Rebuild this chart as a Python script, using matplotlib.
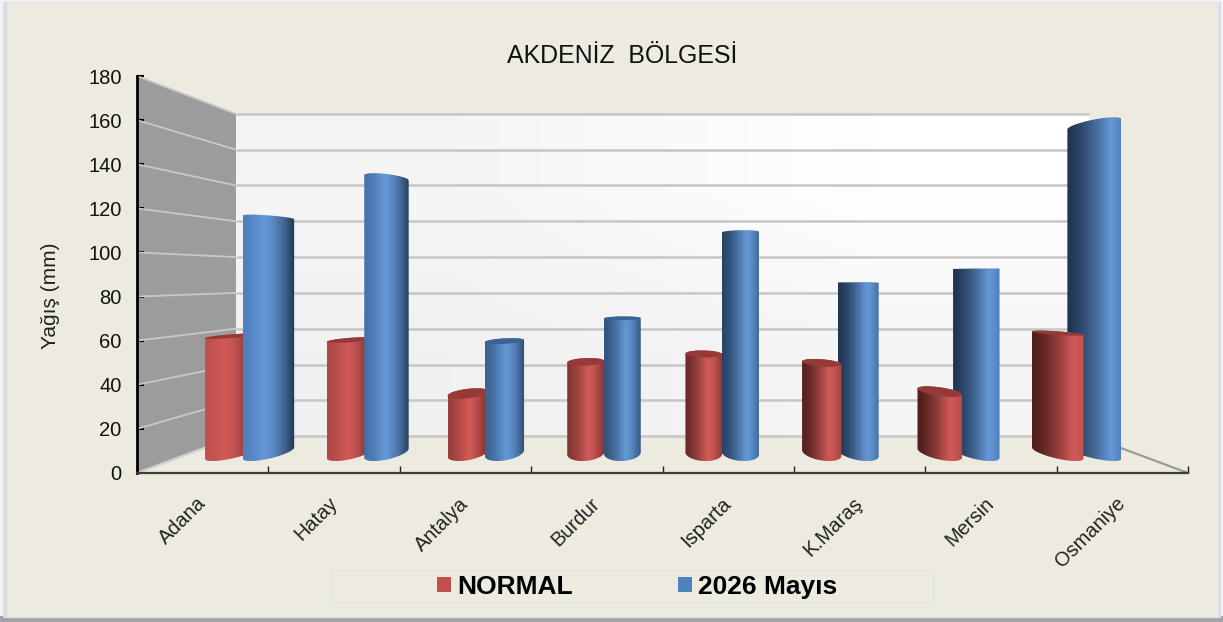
import numpy as np
import matplotlib
matplotlib.use("Agg")
import matplotlib.pyplot as plt
from matplotlib.colors import to_rgb
from matplotlib.patches import Patch, Polygon, Rectangle

plt.rcParams["font.family"] = ["Liberation Sans", "DejaVu Sans"]

# data
cities = ["Adana", "Hatay", "Antalya", "Burdur", "Isparta", "K.Maraş", "Mersin", "Osmaniye"]
normal = [59, 57, 30, 46, 50, 45.5, 31, 60.5]
may_2026 = [119, 139, 56.5, 68, 111.5, 86, 93, 166]
y_ticks = list(range(0, 181, 20))

W, H = 1223, 622
BG = "#EDEBE0"

# perspective of the 3d box, in data units
VP_X, VP_Y = 4.0, 88.8
DEPTH = 0.232
BAR_DEPTH, BAR_DR = 0.5, 0.22
BAR_R = 0.155
RED_POS, BLUE_POS = 0.35, 0.66

RED = {"base": "#C0504D", "hi": "#D05A57", "dark": "#4E1E1C", "top": "#963A38"}
BLUE = {"base": "#4F81BD", "hi": "#6497D6", "dark": "#1F3550", "top": "#3A6493"}


def project(x, y, d):
    f = 1 / (1 + DEPTH * np.asarray(d, dtype=float))
    return VP_X + (np.asarray(x, dtype=float) - VP_X) * f, VP_Y + (np.asarray(y, dtype=float) - VP_Y) * f


def hull(points):
    pts = sorted(set(map(tuple, points)))

    def half(seq):
        out = []
        for p in seq:
            while len(out) > 1 and (out[-1][0] - out[-2][0]) * (p[1] - out[-2][1]) - (out[-1][1] - out[-2][1]) * (p[0] - out[-2][0]) <= 0:
                out.pop()
            out.append(p)
        return out[:-1]

    return np.array(half(pts) + half(pts[::-1]))


def circle(cx, value):
    t = np.linspace(0, 2 * np.pi, 90)
    px, py = project(cx + BAR_R * np.cos(t), np.full_like(t, value), BAR_DEPTH + BAR_DR * np.sin(t))
    return np.column_stack([px, py])


def shade(cols, cx):
    u = np.linspace(0, 1, 160)
    peak = 0.35 + 0.06 * cx
    left_dark = np.clip((cx - 0.6) / 5.0, 0, 1)
    right_dark = np.clip((7.0 - cx) / 6.0, 0, 1)
    base, hi, dark = [np.array(to_rgb(cols[k])) for k in ("base", "hi", "dark")]
    left = base + (dark - base) * left_dark
    right = base + (dark - base) * right_dark
    out = np.zeros((u.size, 3))
    for i, v in enumerate(u):
        if v < peak:
            k = (v / peak) ** 1.4
            out[i] = left + (hi - left) * k
        else:
            k = ((v - peak) / (1 - peak)) ** 1.6
            out[i] = hi + (right - hi) * k
    return out[np.newaxis, :, :]


def draw_bar(ax, cx, value, cols, z):
    bottom = circle(cx, 0)
    top = circle(cx, value)
    outline = hull(np.vstack([bottom, top]))
    im = ax.imshow(shade(cols, cx), extent=(outline[:, 0].min(), outline[:, 0].max(), outline[:, 1].min(), outline[:, 1].max()),
                   origin="lower", aspect="auto", interpolation="bilinear", zorder=z)
    im.set_clip_path(Polygon(outline, closed=True, transform=ax.transData))
    if value < VP_Y:
        ax.add_patch(Polygon(top, closed=True, facecolor=cols["top"], edgecolor="none", zorder=z + 0.1))


def frame_rect(x, y, w, h, color, edge="none", lw=0):
    # x, y, w, h in pixels with y from the top of the picture
    fig.patches.append(Rectangle((x / W, (H - y - h) / H), w / W, h / H, transform=fig.transFigure,
                                 facecolor=color, edgecolor=edge, linewidth=lw, zorder=-1))


fig = plt.figure(figsize=(W / 100, H / 100), dpi=100, facecolor="#F2F2F4")

# frame with its shadow
frame_rect(0, 616, W, 6, "#A3A3A6")
frame_rect(3, 2, 4, 616, "#DCDCE2")
frame_rect(1217, 2, 4, 616, "#DADAE0")
frame_rect(7, 2, 1211, 615, BG, "#E2E2E8", 1)
frame_rect(332, 571, 602, 32, BG, "#E1E5E8", 1.2)

ax = fig.add_axes([137 / W, (H - 473) / H, (1188 - 137) / W, 397 / H])
ax.patch.set_alpha(0)

n = len(cities)
y_top = y_ticks[-1]

# side wall
sx, sy = project([0, 0, 0, 0], [0, y_top, y_top, 0], [0, 0, 1, 1])
ax.add_patch(Polygon(np.column_stack([sx, sy]), closed=True, facecolor="#9C9C9C", edgecolor="none", zorder=1))

# back wall
bx, by = project([0, n, n, 0], [0, 0, y_top, y_top], [1, 1, 1, 1])
wall = np.array([[[0.945, 0.945, 0.945], [0.96, 0.96, 0.96]], [[0.96, 0.96, 0.96], [1.0, 1.0, 1.0]]])
im = ax.imshow(wall, extent=(bx.min(), bx.max(), by.min(), by.max()), origin="lower", aspect="auto",
               interpolation="bilinear", zorder=1)
im.set_clip_path(Polygon(np.column_stack([bx, by]), closed=True, transform=ax.transData))

# gridlines on both walls
for v in y_ticks:
    gx, gy = project([0, 0, n], [v, v, v], [0, 1, 1])
    ax.plot(gx[:2], gy[:2], color="#C8C8C8", lw=1.3, zorder=2, solid_capstyle="butt")
    ax.plot(gx[1:], gy[1:], color="#C6C6C6", lw=1.8, zorder=2, solid_capstyle="butt")

# floor edges
fx, fy = project([n, n], [0, 0], [0, 1])
ax.plot(fx, fy, color="#9A9A9A", lw=1.6, zorder=2)
fx, fy = project([0, 0], [0, 0], [0, 1])
ax.plot(fx, fy, color="#D0D0CC", lw=1.6, zorder=2)

# bars: the one nearer the middle of the chart is drawn last
z = 3.0
for i in range(n):
    pairs = [(i + RED_POS, normal[i], RED), (i + BLUE_POS, may_2026[i], BLUE)]
    if i >= n / 2:
        pairs = pairs[::-1]
    for cx, val, cols in pairs:
        draw_bar(ax, cx, val, cols, z)
        z += 0.2

ax.set_xlim(0, n)
ax.set_ylim(0, y_top)

for side in ("top", "right"):
    ax.spines[side].set_visible(False)
ax.spines["left"].set_linewidth(2)
ax.spines["left"].set_color("black")
ax.spines["left"].set_zorder(10)
ax.spines["bottom"].set_linewidth(1.6)
ax.spines["bottom"].set_color("#3C3C3C")
ax.spines["bottom"].set_zorder(10)

ax.set_yticks(y_ticks)
ax.tick_params(axis="y", direction="in", length=5, width=1.5, color="black", labelsize=14.5, pad=11, labelcolor="#111111")
ax.set_xticks(range(n + 1))
ax.set_xticklabels([])
ax.tick_params(axis="x", which="major", direction="in", length=5, width=1, color="#222222")
ax.set_xticks(np.arange(n) + 0.45, minor=True)
ax.set_xticklabels(cities, minor=True, rotation=45, ha="right", va="top", rotation_mode="anchor",
                   fontsize=14.4, color="#222222")
ax.tick_params(axis="x", which="minor", length=0, pad=15)

fig.text(622 / W, (H - 56) / H, "AKDENİZ  BÖLGESİ", ha="center", va="center", fontsize=17.9, color="#111111")
fig.text(50 / W, (H - 296) / H, "Yağış (mm)", ha="center", va="center", rotation=90, fontsize=15, color="#222222")

handles = [Patch(facecolor=RED["base"], edgecolor="none", label="NORMAL"),
           Patch(facecolor=BLUE["base"], edgecolor="none", label="2026 Mayıs")]
fig.legend(handles=handles, loc="center left", bbox_to_anchor=(437 / W, (H - 587) / H), ncol=2, frameon=False,
           prop={"weight": "bold", "size": 19}, handlelength=0.53, handleheight=0.53, handletextpad=0.22,
           columnspacing=4.0, borderpad=0, borderaxespad=0)

fig.savefig("out.png", dpi=100, facecolor=fig.get_facecolor())
